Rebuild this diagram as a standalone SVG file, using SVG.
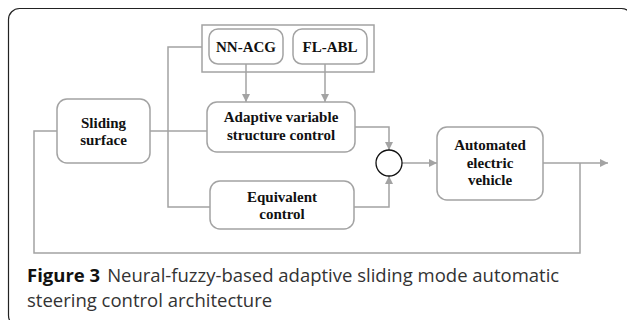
<svg xmlns="http://www.w3.org/2000/svg" width="627" height="320" viewBox="0 0 627 320">
  <defs>
    <marker id="arr" markerWidth="10" markerHeight="10" refX="9" refY="5" orient="auto" markerUnits="userSpaceOnUse">
      <path d="M1,1 L9,5 L1,9 Z" fill="#a3a3a3"/>
    </marker>
    <style>
      .box { fill: #fff; stroke: #a3a3a3; stroke-width: 1.5; }
      .conn { fill: none; stroke: #a3a3a3; stroke-width: 1.5; }
      .lbl { font-family: 'Liberation Serif', 'DejaVu Serif', serif; font-weight: bold; font-size: 15px; fill: #111; text-anchor: middle; }
      .cap { font-family: 'Open Sans', 'Noto Sans', sans-serif; font-size: 18.5px; fill: #333; }
    </style>
  </defs>
  <rect width="627" height="320" fill="#fff"/>
  <rect x="8.5" y="8.5" width="624" height="318" rx="11" fill="none" stroke="#222" stroke-width="1.2"/>

  <g id="connectors">
    <path class="conn" d="M202,47 H168 V207 H210"/>
    <path class="conn" d="M150,131 H207"/>
    <path class="conn" d="M57,131 H34 V253 H580 V163"/>
    <path class="conn" d="M246,64 V102" marker-end="url(#arr)"/>
    <path class="conn" d="M325,64 V102" marker-end="url(#arr)"/>
    <path class="conn" d="M355,127 H389 V150" marker-end="url(#arr)"/>
    <path class="conn" d="M354,207 H389 V176" marker-end="url(#arr)"/>
    <path class="conn" d="M402,163 H437" marker-end="url(#arr)"/>
    <path class="conn" d="M543,163 H608" marker-end="url(#arr)"/>
  </g>

  <g id="group-box">
    <rect x="202" y="25" width="172" height="47" fill="none" stroke="#a3a3a3" stroke-width="1.5"/>
  </g>
  <g id="nn-acg">
    <rect class="box" x="209" y="29" width="74" height="35" rx="9"/>
    <text class="lbl" x="246" y="52">NN-ACG</text>
  </g>
  <g id="fl-abl">
    <rect class="box" x="293" y="29" width="74" height="35" rx="9"/>
    <text class="lbl" x="330" y="52">FL-ABL</text>
  </g>
  <g id="sliding-surface">
    <rect class="box" x="57" y="99" width="93" height="64" rx="10"/>
    <text class="lbl" x="103.5" y="128">Sliding</text>
    <text class="lbl" x="103.5" y="145">surface</text>
  </g>
  <g id="adaptive">
    <rect class="box" x="207" y="102" width="148" height="50" rx="10"/>
    <text class="lbl" x="281" y="122">Adaptive variable</text>
    <text class="lbl" x="281" y="140">structure control</text>
  </g>
  <g id="equivalent">
    <rect class="box" x="210" y="181" width="144" height="48" rx="10"/>
    <text class="lbl" x="282" y="202">Equivalent</text>
    <text class="lbl" x="282" y="219">control</text>
  </g>
  <g id="sum">
    <circle cx="389" cy="163" r="13" fill="#fff" stroke="#111" stroke-width="1.3"/>
  </g>
  <g id="vehicle">
    <rect class="box" x="437" y="127" width="106" height="73" rx="10"/>
    <text class="lbl" x="490" y="150">Automated</text>
    <text class="lbl" x="490" y="168">electric</text>
    <text class="lbl" x="490" y="185">vehicle</text>
  </g>

  <g id="caption">
    <text class="cap" x="27" y="282"><tspan font-weight="bold" fill="#111">Figure 3</tspan><tspan dx="7">Neural-fuzzy-based adaptive sliding mode automatic</tspan></text>
    <text class="cap" x="27" y="307">steering control architecture</text>
  </g>
</svg>
